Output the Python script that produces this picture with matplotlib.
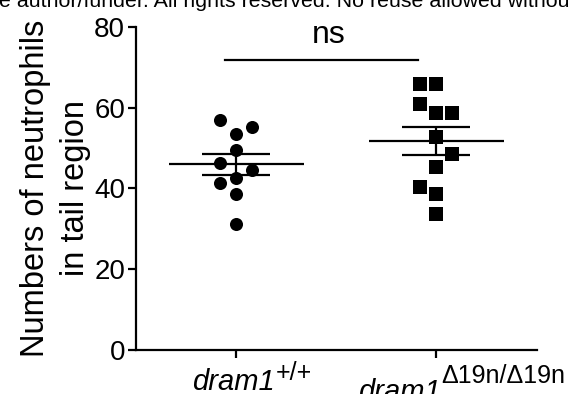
import matplotlib
matplotlib.use("Agg")
import matplotlib.pyplot as plt
import numpy as np

plt.rcParams["font.family"] = ["Liberation Sans", "DejaVu Sans"]

# data (neutrophil counts per larva)
gene = ["dram1", "dram1"]
genotype = ["+/+", "\u039419n/\u039419n"]
wt_counts = [56.9, 55.3, 53.6, 49.5, 46.2, 44.6, 42.7, 41.3, 38.6, 31.2]
mut_counts = [66.0, 66.0, 61.0, 58.6, 58.6, 52.8, 48.5, 45.4, 40.3, 38.6, 33.7]
sig_label = "ns"
sig_level = 71.8
yticks = [0, 20, 40, 60, 80]
ylabel = "Numbers of neutrophils\nin tail region"
watermark = "e author/funder. All rights reserved. No reuse allowed without"

# layout: scatter column of each point (-1 left, 0 centre, 1 right)
wt_cols = [-1, 1, 0, 0, -1, 1, 0, -1, 0, 0]
mut_cols = [-1, 0, -1, 0, 1, 0, 1, 0, -1, 0, 0]
col_step = 0.08
mean_half, cap_half = 0.3375, 0.17
bracket_span = (0.945, 1.91)
# x label placement (px offset of left edge from tick, px below axis for
# main baseline and superscript baseline)
lab_dx = [-44, -78]
lab_base = [40, 50]
sup_base = [30, 33]

fig = plt.figure(figsize=(5.71, 3.94), dpi=100)
ax = fig.add_axes([136 / 571, 44 / 394, 401 / 571, 323 / 394])

groups = [(wt_counts, wt_cols, "o"), (mut_counts, mut_cols, "s")]
for i, (vals, cols, mk) in enumerate(groups):
    x0 = i + 1
    vals = np.asarray(vals)
    xs = x0 + np.asarray(cols) * col_step
    ax.plot(xs, vals, mk, color="black", ms=9.4, mew=0, zorder=3)
    m = vals.mean()
    sem = vals.std(ddof=1) / np.sqrt(len(vals))
    ax.hlines(m, x0 - mean_half, x0 + mean_half, color="black", lw=1.6, zorder=4)
    ax.hlines([m - sem, m + sem], x0 - cap_half, x0 + cap_half,
              color="black", lw=1.6, zorder=4)
    ax.vlines(x0, m - sem, m + sem, color="black", lw=1.6, zorder=4)

ax.plot(bracket_span, [sig_level, sig_level], color="black", lw=1.6,
        clip_on=False)
ax.text(np.mean(bracket_span) + 0.038, sig_level + 4.2, sig_label, fontsize=23,
        ha="center", va="baseline")

ax.set_xlim(0.5, 2.505)
ax.set_ylim(0, 80)
ax.set_yticks(yticks)
ax.set_xticks([1, 2])
ax.set_xticklabels(["", ""])
for s in ["top", "right"]:
    ax.spines[s].set_visible(False)
for s in ["left", "bottom"]:
    ax.spines[s].set_linewidth(1.6)
ax.tick_params(direction="out", length=5.8, width=1.6, colors="black")
ax.tick_params(axis="y", labelsize=20, pad=2)

for i, (g, gt) in enumerate(zip(gene, genotype)):
    main = ax.annotate(g, xy=(i + 1, 0), xycoords=("data", "axes fraction"),
                       xytext=(lab_dx[i], -lab_base[i]), textcoords="offset pixels",
                       fontsize=21, style="italic", ha="left", va="baseline",
                       annotation_clip=False)
    ax.annotate(gt, xy=(1, 0), xycoords=(main, "axes fraction"),
                xytext=(1, -sup_base[i]), textcoords="offset pixels",
                fontsize=18, ha="left", va="baseline", annotation_clip=False)

ax.set_ylabel(ylabel, fontsize=23.5, linespacing=1.4, labelpad=2)

fig.text(-0.002, 1 - 7 / 394, watermark, fontsize=15.4, ha="left", va="baseline")

fig.savefig("out.png", dpi=100)
